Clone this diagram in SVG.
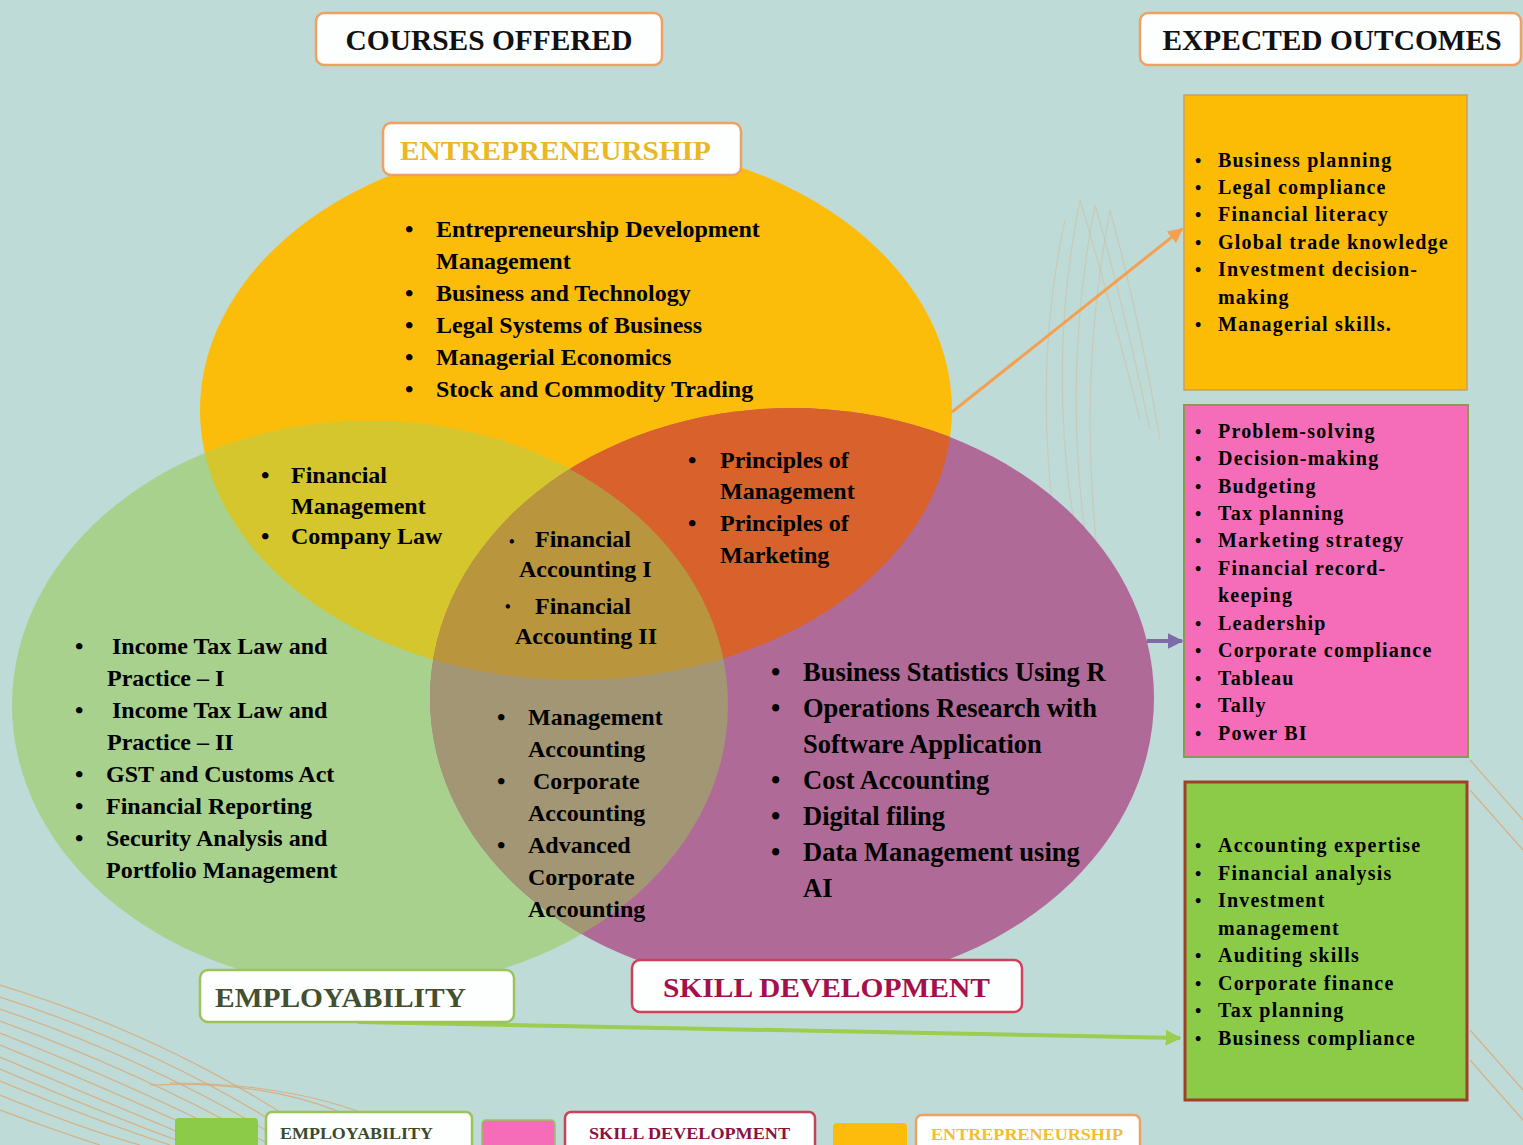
<svg xmlns="http://www.w3.org/2000/svg" width="1523" height="1145" viewBox="0 0 1523 1145">
<defs>
<style>
.t{font-family:"Liberation Serif","Times New Roman",serif;font-weight:bold;fill:#000;}
.c{font-size:24px;}
.p{font-size:26.5px;}
.o{font-size:20px;letter-spacing:1.2px;}
.b{font-size:18px;letter-spacing:0;}
.hd{font-family:"Liberation Serif","Times New Roman",serif;font-weight:bold;}
.lbl{fill:#fdfefe;stroke-width:2.5;}
.deco{fill:none;stroke:#d8a874;stroke-width:1.2;opacity:0.8;}
.deco2{fill:none;stroke:#cdbfa4;stroke-width:1.2;opacity:0.6;}
</style>
<clipPath id="cA"><ellipse cx="576" cy="410" rx="376" ry="270"/></clipPath>
<clipPath id="cB"><ellipse cx="370" cy="705" rx="358" ry="284"/></clipPath>
<clipPath id="cC"><ellipse cx="792" cy="698" rx="362" ry="290"/></clipPath>
<marker id="mO" viewBox="0 0 10 10" refX="9" refY="5" markerWidth="5" markerHeight="5" orient="auto"><path d="M0,0 L10,5 L0,10 Z" fill="#f5a050"/></marker>
<marker id="mP" viewBox="0 0 10 10" refX="9" refY="5" markerWidth="4" markerHeight="4" orient="auto"><path d="M0,0 L10,5 L0,10 Z" fill="#7d6aa8"/></marker>
<marker id="mG" viewBox="0 0 10 10" refX="9" refY="5" markerWidth="4" markerHeight="4" orient="auto"><path d="M0,0 L10,5 L0,10 Z" fill="#9acd50"/></marker>
</defs>
<rect width="1523" height="1145" fill="#bfdbd8"/>
<g id="decoration">
<path class="deco" d="M0,985 Q180,1040 330,1145"/>
<path class="deco" d="M0,997 Q170,1052 310,1145"/>
<path class="deco" d="M0,1009 Q160,1064 290,1145"/>
<path class="deco" d="M0,1021 Q150,1076 270,1145"/>
<path class="deco" d="M0,1033 Q140,1088 250,1145"/>
<path class="deco" d="M0,1045 Q130,1098 230,1145"/>
<path class="deco" d="M0,1057 Q120,1108 210,1145"/>
<path class="deco" d="M0,1069 Q110,1116 190,1145"/>
<path class="deco" d="M0,1081 Q100,1122 170,1145"/>
<path class="deco" d="M0,1095 Q80,1128 140,1145"/>
<path class="deco" d="M0,1110 Q60,1132 100,1145"/>
<path class="deco" d="M150,1085 Q260,1080 340,1112"/>
<path class="deco" d="M170,1083 Q280,1083 360,1112"/>
<path class="deco2" d="M1090,600 Q1040,400 1080,200 Q1110,300 1140,420"/>
<path class="deco2" d="M1100,620 Q1055,410 1095,205 Q1125,310 1150,430"/>
<path class="deco2" d="M1110,640 Q1070,420 1110,210 Q1140,320 1160,440"/>
<path class="deco2" d="M1060,560 Q1030,380 1065,220"/>
<path class="deco" d="M1470,760 L1523,820"/>
<path class="deco" d="M1470,790 L1523,850"/>
<path class="deco" d="M1470,1030 L1523,1090"/>
<path class="deco" d="M1470,1060 L1523,1120"/>
</g>
<g id="venn">
<ellipse cx="576" cy="410" rx="376" ry="270" fill="#fcbc0a"/>
<ellipse cx="370" cy="705" rx="358" ry="284" fill="#a8d18e"/>
<ellipse cx="792" cy="698" rx="362" ry="290" fill="#b06a98"/>
<g clip-path="url(#cB)"><ellipse cx="576" cy="410" rx="376" ry="270" fill="#d4c62c"/></g>
<g clip-path="url(#cC)"><ellipse cx="576" cy="410" rx="376" ry="270" fill="#d9612c"/></g>
<g clip-path="url(#cC)"><ellipse cx="370" cy="705" rx="358" ry="284" fill="#a39674"/></g>
<g clip-path="url(#cC)"><g clip-path="url(#cB)"><ellipse cx="576" cy="410" rx="376" ry="270" fill="#b9953e"/></g></g>
</g>
<g id="connectors">
<line x1="952" y1="412" x2="1182" y2="229" stroke="#f5a050" stroke-width="3" marker-end="url(#mO)"/>
<line x1="1147" y1="641" x2="1182" y2="641" stroke="#7d6aa8" stroke-width="4" marker-end="url(#mP)"/>
<line x1="358" y1="1022" x2="1180" y2="1038" stroke="#9acd50" stroke-width="4" marker-end="url(#mG)"/>
</g>
<g id="header-courses">
<rect class="lbl" x="316" y="13" width="346" height="52" rx="8" stroke="#f0a060"/>
<text class="hd" x="489" y="50" font-size="29" text-anchor="middle" fill="#111" textLength="287" lengthAdjust="spacingAndGlyphs">COURSES OFFERED</text>
</g>
<g id="header-outcomes">
<rect class="lbl" x="1140" y="13" width="381" height="52" rx="8" stroke="#f0a060"/>
<text class="hd" x="1332" y="50" font-size="29" text-anchor="middle" fill="#111" textLength="339" lengthAdjust="spacingAndGlyphs">EXPECTED OUTCOMES</text>
</g>
<g id="label-entrepreneurship">
<rect class="lbl" x="383" y="123" width="358" height="52" rx="8" stroke="#f0a060"/>
<text class="hd" x="400" y="160" font-size="28" fill="#e9b824" textLength="311" lengthAdjust="spacingAndGlyphs">ENTREPRENEURSHIP</text>
</g>
<g id="label-employability">
<rect class="lbl" x="200" y="970" width="314" height="52" rx="8" stroke="#9bc35a"/>
<text class="hd" x="215" y="1007" font-size="28" fill="#434f2e" textLength="251" lengthAdjust="spacingAndGlyphs">EMPLOYABILITY</text>
</g>
<g id="label-skill">
<rect class="lbl" x="632" y="960" width="390" height="52" rx="8" stroke="#d0405a"/>
<text class="hd" x="663" y="997" font-size="28" fill="#a3104c" textLength="327" lengthAdjust="spacingAndGlyphs">SKILL DEVELOPMENT</text>
</g>
<g id="entrepreneurship-courses" class="t c">
<text x="405" y="237">•</text><text x="436" y="237">Entrepreneurship Development</text>
<text x="436" y="269">Management</text>
<text x="405" y="301">•</text><text x="436" y="301">Business and Technology</text>
<text x="405" y="333">•</text><text x="436" y="333">Legal Systems of Business</text>
<text x="405" y="365">•</text><text x="436" y="365">Managerial Economics</text>
<text x="405" y="397">•</text><text x="436" y="397">Stock and Commodity Trading</text>
</g>
<g id="ent-emp-courses" class="t c">
<text x="261" y="483">•</text><text x="291" y="483">Financial</text>
<text x="291" y="514">Management</text>
<text x="261" y="544">•</text><text x="291" y="544">Company Law</text>
</g>
<g id="ent-skill-courses" class="t c">
<text x="688" y="468">•</text><text x="720" y="468">Principles of</text>
<text x="720" y="499">Management</text>
<text x="688" y="531">•</text><text x="720" y="531">Principles of</text>
<text x="720" y="563">Marketing</text>
</g>
<g id="all-three-courses" class="t c">
<text x="509" y="547" font-size="16">•</text><text x="535" y="547">Financial</text>
<text x="519" y="577">Accounting I</text>
<text x="505" y="612" font-size="16">•</text><text x="535" y="614">Financial</text>
<text x="515" y="644">Accounting II</text>
</g>
<g id="employability-courses" class="t c">
<text x="75" y="654">•</text><text x="112" y="654">Income Tax Law and</text>
<text x="107" y="686">Practice – I</text>
<text x="75" y="718">•</text><text x="112" y="718">Income Tax Law and</text>
<text x="107" y="750">Practice – II</text>
<text x="75" y="782">•</text><text x="106" y="782">GST and Customs Act</text>
<text x="75" y="814">•</text><text x="106" y="814">Financial Reporting</text>
<text x="75" y="846">•</text><text x="106" y="846">Security Analysis and</text>
<text x="106" y="878">Portfolio Management</text>
</g>
<g id="emp-skill-courses" class="t c">
<text x="497" y="725">•</text><text x="528" y="725">Management</text>
<text x="528" y="757">Accounting</text>
<text x="497" y="789">•</text><text x="533" y="789">Corporate</text>
<text x="528" y="821">Accounting</text>
<text x="497" y="853">•</text><text x="528" y="853">Advanced</text>
<text x="528" y="885">Corporate</text>
<text x="528" y="917">Accounting</text>
</g>
<g id="skill-courses" class="t p">
<text x="771" y="681">•</text><text x="803" y="681">Business Statistics Using R</text>
<text x="771" y="717">•</text><text x="803" y="717">Operations Research with</text>
<text x="803" y="753">Software Application</text>
<text x="771" y="789">•</text><text x="803" y="789">Cost Accounting</text>
<text x="771" y="825">•</text><text x="803" y="825">Digital filing</text>
<text x="771" y="861">•</text><text x="803" y="861">Data Management using</text>
<text x="803" y="897">AI</text>
</g>
<g id="outcome-entrepreneurship">
<rect x="1184" y="95" width="283" height="295" fill="#fcbc05" stroke="#c8a060" stroke-width="1.5"/>
<g class="t o" fill="#2a1a00">
<text class="b" x="1195" y="167">•</text><text x="1218" y="167">Business planning</text>
<text class="b" x="1195" y="194">•</text><text x="1218" y="194">Legal compliance</text>
<text class="b" x="1195" y="221">•</text><text x="1218" y="221">Financial literacy</text>
<text class="b" x="1195" y="249">•</text><text x="1218" y="249">Global trade knowledge</text>
<text class="b" x="1195" y="276">•</text><text x="1218" y="276">Investment decision-</text>
<text x="1218" y="304">making</text>
<text class="b" x="1195" y="331">•</text><text x="1218" y="331">Managerial skills.</text>
</g>
</g>
<g id="outcome-skill">
<rect x="1184" y="405" width="284" height="352" fill="#f56cb8" stroke="#8a9a50" stroke-width="2"/>
<g class="t o" fill="#2a0a20">
<text class="b" x="1195" y="438">•</text><text x="1218" y="438">Problem-solving</text>
<text class="b" x="1195" y="465">•</text><text x="1218" y="465">Decision-making</text>
<text class="b" x="1195" y="493">•</text><text x="1218" y="493">Budgeting</text>
<text class="b" x="1195" y="520">•</text><text x="1218" y="520">Tax planning</text>
<text class="b" x="1195" y="547">•</text><text x="1218" y="547">Marketing strategy</text>
<text class="b" x="1195" y="575">•</text><text x="1218" y="575">Financial record-</text>
<text x="1218" y="602">keeping</text>
<text class="b" x="1195" y="630">•</text><text x="1218" y="630">Leadership</text>
<text class="b" x="1195" y="657">•</text><text x="1218" y="657">Corporate compliance</text>
<text class="b" x="1195" y="685">•</text><text x="1218" y="685">Tableau</text>
<text class="b" x="1195" y="712">•</text><text x="1218" y="712">Tally</text>
<text class="b" x="1195" y="740">•</text><text x="1218" y="740">Power BI</text>
</g>
</g>
<g id="outcome-employability">
<rect x="1185" y="782" width="282" height="318" fill="#8ccb48" stroke="#a0402a" stroke-width="3"/>
<g class="t o" fill="#10200a">
<text class="b" x="1195" y="852">•</text><text x="1218" y="852">Accounting expertise</text>
<text class="b" x="1195" y="880">•</text><text x="1218" y="880">Financial analysis</text>
<text class="b" x="1195" y="907">•</text><text x="1218" y="907">Investment</text>
<text x="1218" y="935">management</text>
<text class="b" x="1195" y="962">•</text><text x="1218" y="962">Auditing skills</text>
<text class="b" x="1195" y="990">•</text><text x="1218" y="990">Corporate finance</text>
<text class="b" x="1195" y="1017">•</text><text x="1218" y="1017">Tax planning</text>
<text class="b" x="1195" y="1045">•</text><text x="1218" y="1045">Business compliance</text>
</g>
</g>
<g id="legend">
<rect x="175" y="1118" width="83" height="40" rx="4" fill="#8ccb48"/>
<rect class="lbl" x="266" y="1112" width="206" height="45" rx="6" stroke="#9bc35a"/>
<text class="hd" x="280" y="1139" font-size="17" fill="#3a4a2a" textLength="153" lengthAdjust="spacingAndGlyphs">EMPLOYABILITY</text>
<rect x="482" y="1120" width="73" height="40" rx="4" fill="#f56cb8" stroke="#9bc35a" stroke-width="1.5"/>
<rect class="lbl" x="565" y="1112" width="250" height="45" rx="6" stroke="#c8405a"/>
<text class="hd" x="589" y="1139" font-size="17" fill="#8a1040" textLength="201" lengthAdjust="spacingAndGlyphs">SKILL DEVELOPMENT</text>
<rect x="833" y="1123" width="74" height="40" rx="4" fill="#fdbb0b"/>
<rect class="lbl" x="916" y="1115" width="224" height="45" rx="6" stroke="#f0a060"/>
<text class="hd" x="931" y="1140" font-size="17" fill="#f0c030" textLength="192" lengthAdjust="spacingAndGlyphs">ENTREPRENEURSHIP</text>
</g>
</svg>
